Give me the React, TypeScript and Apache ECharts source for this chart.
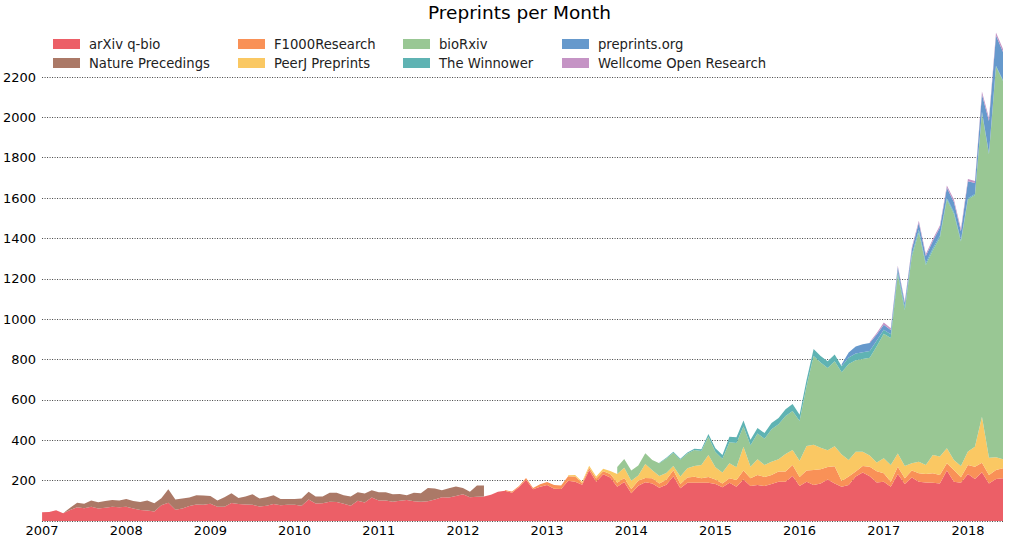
import React, { useEffect, useRef } from "react";
import * as echarts from "echarts";

// ---- categories ----
const years = [2007, 2008, 2009, 2010, 2011, 2012, 2013, 2014, 2015, 2016, 2017, 2018];
const lastYearMonths = 6;
const months: string[] = [];
years.forEach((y) => {
  const n = y === 2018 ? lastYearMonths : 12;
  for (let m = 1; m <= n; m++) months.push(`${y}-${m < 10 ? "0" + m : m}`);
});

// ---- series names / colours ----
const seriesNames = [
  "arXiv q-bio",
  "Nature Precedings",
  "F1000Research",
  "PeerJ Preprints",
  "bioRxiv",
  "The Winnower",
  "preprints.org",
  "Wellcome Open Research",
];
const seriesColors = ["#ec5f67", "#ab7967", "#f99157", "#fac863", "#99c794", "#5fb3b3", "#6699cc", "#c594c5"];

// ---- values (monthly counts), each starting at a month index ----
const arxivStart = 0;
const arxivQbio = [
  43, 45, 53, 38, 55, 68, 63, 71, 62, 66, 70, 68,
  70, 62, 55, 52, 47, 78, 90, 56, 62, 74, 82, 80,
  86, 71, 70, 89, 84, 82, 80, 72, 75, 84, 78, 80,
  80, 75, 106, 87, 88, 95, 94, 86, 76, 100, 92, 116,
  102, 101, 96, 100, 104, 98, 96, 98, 106, 118, 117, 124,
  132, 118, 120, 121, 130, 145, 150, 140, 168, 205, 157, 170,
  178, 160, 158, 200, 195, 180, 252, 195, 232, 215, 170, 193,
  137, 175, 192, 186, 165, 180, 222, 162, 190, 189, 190, 190,
  183, 167, 190, 170, 206, 173, 178, 173, 183, 195, 195, 223,
  173, 195, 178, 186, 206, 186, 170, 178, 220, 240, 222, 191,
  195, 170, 233, 183, 215, 195, 191, 190, 186, 250, 195, 190,
  233, 208, 241, 186, 208, 212,
];

const natureStart = 0;
const naturePrecedings = [
  0, 0, 0, 0, 11, 23, 22, 30, 31, 33, 34, 33,
  39, 37, 39, 49, 41, 35, 67, 51, 50, 42, 46, 46,
  38, 30, 48, 48, 30, 39, 52, 40, 43, 43, 31, 29,
  29, 37, 39, 34, 33, 45, 46, 42, 46, 42, 44, 36,
  41, 41, 37, 34, 24, 42, 41, 66, 55, 34, 45, 47,
  31, 27, 56, 55,
];

const f1000Start = 66;
const f1000Research = [
  3, 6, 6, 8, 6, 12,
  15, 18, 18, 22, 25, 8, 12, 15, 15, 18, 20, 20,
  22, 25, 21, 26, 21, 25, 30, 21, 26, 30, 22, 28,
  23, 19, 22, 33, 44, 39, 50, 45, 45, 50, 50, 55,
  45, 55, 75, 70, 62, 85, 28, 42, 25, 33, 47, 56,
  41, 25, 36, 29, 35, 41, 42, 46, 42, 36, 58, 27,
  45, 61, 48, 42, 45, 49,
];

const peerjStart = 75;
const peerjPreprints = [
  5, 8, 6, 10, 10, 12, 15, 43, 51,
  41, 25, 70, 40, 37, 33, 20, 37, 45, 53, 66, 109,
  60, 54, 74, 63, 118, 57, 78, 60, 66, 61, 87, 74,
  80, 122, 125, 107, 82, 100, 132, 82, 98, 70, 55, 43,
  75, 83, 66, 61, 36, 58, 45, 91, 91, 74, 49, 56,
  66, 99, 228, 86, 63, 45,
];

const biorxivStart = 82;
const biorxiv = [
  35, 43,
  50, 50, 53, 50, 63, 72, 66, 84, 73, 80, 69, 91,
  76, 69, 104, 121, 100, 106, 127, 130, 161, 174, 188, 193,
  198, 298, 439, 422, 408, 421, 407, 476, 454, 460, 485, 576,
  617, 629, 887, 772, 1023, 1137, 990, 1015, 1085, 1233, 1221, 1112,
  1249, 1247, 1506, 1503, 1936, 1874,
];

const winnowerStart = 88;
const theWinnower = [
  3, 4, 5, 5, 5, 6, 8, 13,
  18, 18, 28, 28, 30, 27, 28, 28, 30, 30, 34, 35,
  30, 30, 35, 33, 33, 33, 30, 32, 33, 33, 33, 28,
  20, 18, 15, 15, 12, 12, 10, 10, 10, 8, 8, 6,
  6, 5, 5, 5, 4, 4,
];

const preprintsOrgStart = 114;
const preprintsOrg = [
  10, 25, 35, 40, 40, 30,
  25, 22, 20, 20, 25, 35, 35, 35, 40, 50, 50, 45,
  85, 55, 85, 160, 150, 140,
];

const wellcomeStart = 118;
const wellcomeOpenResearch = [
  5, 8,
  10, 8, 8, 8, 10, 10, 10, 10, 10, 12, 12, 12,
  10, 10, 15, 15, 15, 15,
];

const seriesStarts = [arxivStart, natureStart, f1000Start, peerjStart, biorxivStart, winnowerStart, preprintsOrgStart, wellcomeStart];
const seriesValues = [arxivQbio, naturePrecedings, f1000Research, peerjPreprints, biorxiv, theWinnower, preprintsOrg, wellcomeOpenResearch];

const padSeries = (start: number, vals: number[]) =>
  months.map((_, i) => (i >= start && i < start + vals.length ? vals[i - start] : null));

// legend layout: [left, top]
const legendSlots = [
  [53, 37.5],
  [53, 56.5],
  [238, 37.5],
  [238, 56.5],
  [403, 37.5],
  [403, 56.5],
  [562, 37.5],
  [562, 56.5],
];

export default function App() {
  const ref = useRef<HTMLDivElement>(null);

  useEffect(() => {
    if (!ref.current) return;
    const chart = echarts.init(ref.current, undefined, { renderer: "svg" });

    const legends = seriesNames.map((name, k) => ({
      data: [name],
      left: legendSlots[k][0],
      top: legendSlots[k][1],
      padding: 0,
      icon: "rect",
      itemWidth: 27,
      itemHeight: 10,
      itemStyle: { borderWidth: 0 },
      textStyle: { fontSize: 13.2, color: "#222", padding: [0, 0, 0, 4] },
    }));

    const series = seriesNames.map((name, k) => ({
      name,
      type: "line",
      stack: "total",
      data: padSeries(seriesStarts[k], seriesValues[k]),
      symbol: "none",
      showSymbol: false,
      connectNulls: false,
      clip: false,
      color: seriesColors[k],
      itemStyle: { color: seriesColors[k] },
      lineStyle: { width: 0, color: seriesColors[k] },
      areaStyle: { color: seriesColors[k], opacity: 1 },
      emphasis: { disabled: true },
    }));

    chart.setOption({
      animation: false,
      textStyle: { fontFamily: "DejaVu Sans" },
      title: {
        text: "Preprints per Month",
        left: 428,
        top: 3,
        padding: 0,
        textStyle: { fontSize: 18.5, fontWeight: "normal", color: "#000", fontFamily: "DejaVu Sans" },
      },
      legend: legends,
      grid: { left: 40, right: 21, top: 77, bottom: 22, containLabel: false },
      xAxis: {
        type: "category",
        data: months,
        boundaryGap: false,
        axisLine: { show: false },
        axisTick: { show: false },
        splitLine: { show: false },
        axisLabel: {
          interval: (_i: number, v: string) => v.endsWith("-01"),
          formatter: (v: string) => v.slice(0, 4),
          fontSize: 13,
          color: "#000",
          margin: 3,
        },
      },
      yAxis: {
        type: "value",
        min: 0,
        max: 2200,
        interval: 200,
        axisLine: { show: false },
        axisTick: { show: false },
        axisLabel: {
          formatter: (v: number) => (v === 0 ? "" : String(v)),
          fontSize: 13,
          color: "#000",
          margin: 6,
        },
        splitLine: { lineStyle: { type: [1, 1.5], color: "#444", width: 1 } },
      },
      series,
    });

    return () => chart.dispose();
  }, []);

  return (
    <div
      ref={ref}
      style={{ position: "fixed", left: 0, top: 0, width: 1024, height: 543, background: "#fff" }}
    />
  );
}
